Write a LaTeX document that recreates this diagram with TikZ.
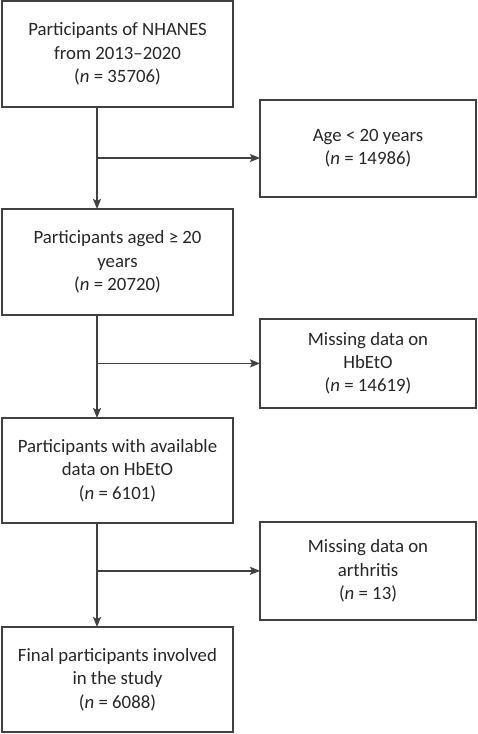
\documentclass[tikz,border=0pt]{standalone}
\usepackage{fontspec}
\setmainfont{Carlito}
\usetikzlibrary{positioning, arrows.meta}

\begin{document}
\begin{tikzpicture}[
  paso/.style={draw=black!75, line width=1.5pt, align=center, text=black!85,
               font=\fontsize{18.8}{23.3}\selectfont, inner sep=0pt, outer sep=0pt,
               minimum width=231pt, minimum height=106pt},
  excl/.style={paso, minimum width=216pt},
  fl/.style={-{Stealth[length=10pt, width=8pt, inset=2pt]}, black!75, line width=1.5pt},
  node distance=102pt]
\useasboundingbox (0,0) rectangle (477pt,-734pt);
\node[paso] (nhanes) at (117.5pt,-54pt) {Participants of NHANES\\from 2013–2020\\(\textit{n} = 35706)};
\node[paso, below=102pt of nhanes] (adults) {Participants aged ≥ 20\\years\\(\textit{n} = 20720)};
\node[paso, below=103pt of adults, minimum height=105pt] (hbeto) {Participants with available\\data on HbEtO\\(\textit{n} = 6101)};
\node[paso, below=104pt of hbeto, minimum height=105pt] (final) {Final participants involved\\in the study\\(\textit{n} = 6088)};
% branch points on the main line
\path ([xshift=-20.5pt]nhanes.south) -- coordinate[pos=0.5] (j1) ([xshift=-20.5pt]adults.north);
\path ([xshift=-20.5pt]adults.south) -- coordinate[pos=0.47] (j2) ([xshift=-20.5pt]hbeto.north);
\path ([xshift=-20.5pt]hbeto.south) -- coordinate[pos=0.46] (j3) ([xshift=-20.5pt]final.north);
\node[excl, right=163pt of j1, yshift=9.5pt, minimum height=97pt] (age) {Age < 20 years\\(\textit{n} = 14986)};
\node[excl, right=163pt of j2, minimum height=89pt] (nodata) {Missing data on\\HbEtO\\(\textit{n} = 14619)};
\node[excl, right=163pt of j3, minimum height=98pt] (noarth) {Missing data on\\arthritis\\(\textit{n} = 13)};
\draw[fl] ([xshift=-20.5pt]nhanes.south) -- ([xshift=-20.5pt]adults.north);
\draw[fl] ([xshift=-20.5pt]adults.south) -- ([xshift=-20.5pt]hbeto.north);
\draw[fl] ([xshift=-20.5pt]hbeto.south) -- ([xshift=-20.5pt]final.north);
\draw[fl] (j1) -- (j1 -| age.west);
\draw[fl] (j2) -- (j2 -| nodata.west);
\draw[fl] (j3) -- (j3 -| noarth.west);
\end{tikzpicture}
\end{document}
